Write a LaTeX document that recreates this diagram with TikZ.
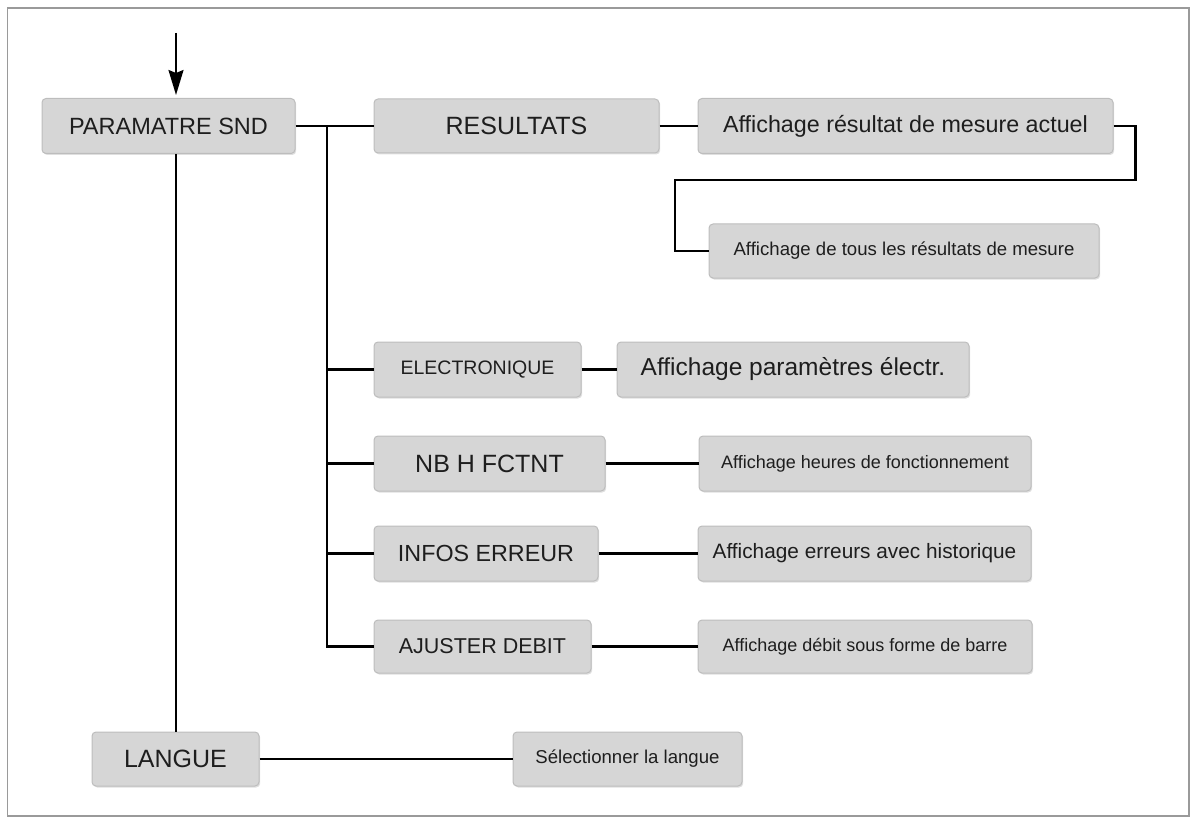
\documentclass[tikz,border=0pt]{standalone}
\usepackage{fontspec}
\setmainfont{Liberation Sans}
\usetikzlibrary{arrows.meta,shadows}
\definecolor{boxfill}{HTML}{D6D6D6}
\definecolor{boxline}{HTML}{BDBDBD}
\definecolor{txt}{HTML}{1E1E1E}
\definecolor{framec}{HTML}{9A9A9A}
\newcommand{\fs}[1]{\fontsize{#1}{#1}\selectfont}
\tikzset{
  menubox/.style={rectangle, rounded corners=4pt, fill=boxfill, draw=boxline, line width=1pt,
    text=txt, inner sep=0pt, anchor=center,
    drop shadow={shadow xshift=1.2pt, shadow yshift=-1.5pt, opacity=0.25}},
  link/.style={draw=black, line width=2.5pt},
}
\begin{document}
\begin{tikzpicture}[x=1pt,y=-1pt]
\useasboundingbox (0,0) rectangle (1193,818);
\draw[framec, line width=1.5pt] (7.5,8) rectangle (1189,816);

% nodes
\node[menubox, minimum width=253pt, minimum height=55pt, font=\fs{23.5}] (psnd) at (168.5,126) {PARAMATRE SND};
\node[menubox, minimum width=285pt, minimum height=54pt, font=\fs{25}] (res) at (516.5,126) {RESULTATS};
\node[menubox, minimum width=415pt, minimum height=55pt, font=\fs{23.3}] (act) at (905.5,126) {Affichage résultat de mesure actuel};
\node[menubox, minimum width=390pt, minimum height=54pt, font=\fs{18.6}] (tous) at (904,251) {Affichage de tous les résultats de mesure};

\node[menubox, minimum width=207pt, minimum height=55pt, font=\fs{19.5}] (elec) at (477.5,369.5) {ELECTRONIQUE};
\node[menubox, minimum width=352pt, minimum height=55pt, font=\fs{24.5}] (elecA) at (793,369.5) {Affichage paramètres électr.};

\node[menubox, minimum width=231pt, minimum height=55pt, font=\fs{25}] (nbh) at (489.5,463.5) {NB H FCTNT};
\node[menubox, minimum width=332pt, minimum height=55pt, font=\fs{18}] (nbhA) at (865,463.5) {Affichage heures de fonctionnement};

\node[menubox, minimum width=224pt, minimum height=55pt, font=\fs{23.3}] (inf) at (486,553.5) {INFOS ERREUR};
\node[menubox, minimum width=333pt, minimum height=55pt, font=\fs{20.8}] (infA) at (864.5,553.5) {Affichage erreurs avec historique};

\node[menubox, minimum width=217pt, minimum height=53pt, font=\fs{21.5}] (aju) at (482.5,646.5) {AJUSTER DEBIT};
\node[menubox, minimum width=334pt, minimum height=53pt, font=\fs{18}] (ajuA) at (865,646.5) {Affichage débit sous forme de barre};

\node[menubox, minimum width=167pt, minimum height=54pt, font=\fs{25}] (lang) at (175.5,759) {LANGUE};
\node[menubox, minimum width=229pt, minimum height=54pt, font=\fs{18.6}] (langA) at (627.5,759) {Sélectionner la langue};

% entry arrow
\coordinate (start) at (176,33);
\draw[line width=2pt, -{Stealth[length=25pt, width=15pt, inset=3pt]}, shorten >=3pt] (start) -- (start |- psnd.north);

% main spine
\draw[link] (psnd.south -| start) -- (lang.north -| start);
\draw[link] (lang.east) -- (langA.west);

% branch
\coordinate (b0) at (327,126);
\draw[link] (psnd.east) -- (res.west);
\draw[link] (b0) |- (aju.west);
\draw[link] (b0 |- elec.west) -- (elec.west);
\draw[link] (b0 |- nbh.west) -- (nbh.west);
\draw[link] (b0 |- inf.west) -- (inf.west);

% second column links
\draw[link] (res.east) -- (act.west);
\draw[link, line join=miter] (act.east) -- ++(22,0) |- (675,180) |- (tous.west);
\draw[link] (elec.east) -- (elecA.west);
\draw[link] (nbh.east) -- (nbhA.west);
\draw[link] (inf.east) -- (infA.west);
\draw[link] (aju.east) -- (ajuA.west);
\end{tikzpicture}
\end{document}
